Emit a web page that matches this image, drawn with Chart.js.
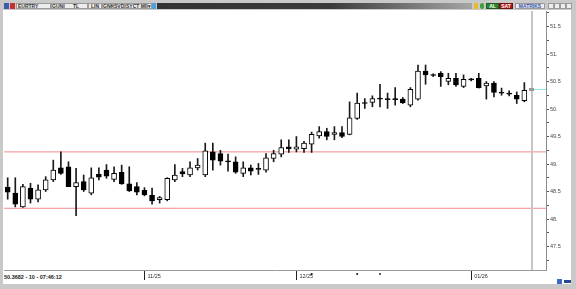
<!DOCTYPE html>
<html>
<head>
<meta charset="utf-8">
<script src="https://cdn.jsdelivr.net/npm/chart.js@4.4.1/dist/chart.umd.min.js"></script>
<style>
body{margin:0;background:#c9c9c9;}
#wrap{position:relative;width:576px;height:289px;overflow:hidden;background:#c9c9c9;font-family:"Liberation Sans",Arial,sans-serif;}
#plot{position:absolute;left:3px;top:10px;width:568px;height:274px;background:#fff;}
#dark{position:absolute;left:157px;top:3px;width:315px;height:6px;background:linear-gradient(to right,#333 0%,#3a3a3a 55%,#a5a5a5 100%);}
.b{position:absolute;top:3px;height:4px;border:1px solid #9a9a9a;background:#ededed;font-size:5px;line-height:4px;font-weight:bold;color:#333;text-align:center;white-space:nowrap;overflow:hidden;}
.ic{position:absolute;top:3px;width:5px;height:6px;}
#info{position:absolute;left:4px;top:274px;font-size:5.5px;font-weight:bold;color:#222;white-space:nowrap;}
canvas{position:absolute;left:0;top:0;}
</style>
</head>
<body>
<div id="wrap">
  <div id="plot"></div>
  <div class="ic" style="left:4px;background:#3a5db0;"></div>
  <div class="ic" style="left:10px;background:#c23030;"></div>
  <div class="b" style="left:16px;width:33px;text-align:left;padding-left:1px;width:32px;">EURTRY</div>
  <div class="b" style="left:51px;width:11px;">GUN</div>
  <div class="b" style="left:64px;width:22px;">TL</div>
  <div class="b" style="left:88px;width:12px;">LIN</div>
  <div class="b" style="left:102px;width:10px;">GNK</div>
  <div class="b" style="left:113px;width:10px;">SVD</div>
  <div class="b" style="left:125px;width:20px;">SYCT MP</div>
  <div class="b" style="left:147px;width:3px;">&#9662;</div>
  <div class="ic" style="left:152px;width:4px;background:#4aa0e0;"></div>
  <div id="dark"></div>
  <div class="ic" style="left:474px;width:4px;background:#e8b830;"></div>
  <div class="ic" style="left:480px;width:4px;background:#40a040;border-radius:3px;"></div>
  <div class="b" style="left:486px;width:11px;background:#2a8a2a;color:#fff;border-color:#1c5c1c;">AL</div>
  <div class="b" style="left:499px;width:12px;background:#a81c1c;color:#fff;border-color:#701010;">SAT</div>
  <div class="b" style="left:515px;width:28px;color:#3454a8;">MATRIKS</div>
  <div class="b" style="left:548px;width:4px;"></div>
  <div class="b" style="left:554px;width:4px;"></div>
  <div class="b" style="left:560px;width:4px;"></div>
  <div class="b" style="left:566px;width:4px;"></div>
  <div id="info">50.3682 - 10 - 07:46:12</div>
  <div class="ic" style="left:557px;top:279px;width:5px;height:5px;background:#3a6ac8;"></div>
  <div class="ic" style="left:564px;top:280px;width:7px;height:3px;background:#2a4a90;"></div>
  <canvas id="c" width="576" height="289"></canvas>
</div>
<script>
// candles, oldest first
const opens  = [48.58,48.47,48.22,48.56,48.36,48.53,48.71,48.93,48.95,48.59,48.68,48.47,48.81,48.89,48.72,48.85,48.64,48.59,48.52,48.43,
                48.35,48.35,48.71,48.86,48.80,48.93,48.80,49.22,49.19,49.05,49.04,48.83,48.93,48.92,48.89,49.10,49.18,49.31,49.27,49.28,
                49.36,49.51,49.59,49.54,49.57,49.54,49.83,50.11,50.12,50.19,50.18,50.18,50.18,50.07,50.18,50.69,50.62,50.65,50.50,50.56,
                50.41,50.54,50.56,50.42,50.47,50.30,50.29,50.25,50.15];
const highs  = [48.75,48.75,48.63,48.65,48.62,48.77,49.07,49.22,49.04,48.92,48.80,48.93,48.93,48.99,48.95,48.98,48.95,48.66,48.57,48.56,
                48.41,48.75,48.99,48.92,49.04,49.10,49.38,49.38,49.25,49.18,49.13,49.04,48.98,49.01,49.19,49.25,49.44,49.44,49.50,49.41,
                49.58,49.68,49.65,49.68,49.68,50.13,50.29,50.19,50.24,50.45,50.29,50.39,50.21,50.39,50.80,50.80,50.64,50.68,50.65,50.65,
                50.62,50.56,50.65,50.50,50.50,50.38,50.33,50.31,50.48];
const lows   = [48.36,48.22,48.21,48.29,48.31,48.50,48.68,48.81,48.59,48.06,48.50,48.44,48.71,48.74,48.68,48.63,48.50,48.44,48.42,48.27,
                48.29,48.33,48.68,48.77,48.77,48.89,48.77,48.89,48.98,48.87,48.83,48.77,48.80,48.81,48.85,49.04,49.13,49.21,49.22,49.21,
                49.21,49.47,49.44,49.44,49.48,49.53,49.81,50.01,50.04,50.04,50.01,50.07,50.10,50.04,50.16,50.45,50.59,50.41,50.44,50.41,
                50.39,50.51,50.38,50.18,50.22,50.25,50.24,50.10,50.13];
const closes = [48.49,48.27,48.59,48.36,48.53,48.71,48.89,48.83,48.59,48.66,48.53,48.75,48.76,48.78,48.83,48.64,48.51,48.49,48.44,48.33,
                48.39,48.74,48.80,48.82,48.93,48.98,49.24,49.07,49.05,49.04,48.85,48.93,48.87,48.90,49.11,49.19,49.30,49.28,49.31,49.38,
                49.54,49.59,49.50,49.57,49.50,49.84,50.11,50.10,50.19,50.18,50.17,50.17,50.11,50.36,50.69,50.62,50.61,50.59,50.56,50.44,
                50.54,50.53,50.39,50.47,50.30,50.29,50.27,50.18,50.34];

const dateTicks  = [18, 38, 61];
const dateLabels = ['11/25', '12/25', '01/26'];
const levels     = [49.22, 48.195];
const lastPrice  = 50.3682;
const markerIdx  = [40, 46, 49];

const xMin = -0.486, xMax = 70.85;
const yMin = 47.0727, yMax = 51.782;
const font = {family: '"Liberation Sans", Arial, sans-serif', size: 5.5};

const frame = {
  id: 'frame',
  afterDatasetsDraw(chart) {
    const ctx = chart.ctx, a = chart.chartArea;
    const y = chart.scales.y.getPixelForValue(lastPrice);
    ctx.save();
    ctx.fillStyle = '#c6c6c6';
    ctx.fillRect(531, a.top, 2, a.bottom - a.top);
    ctx.strokeStyle = '#8fe6ee';
    ctx.lineWidth = 1;
    ctx.beginPath();
    ctx.moveTo(533, Math.round(y) + 0.5);
    ctx.lineTo(a.right, Math.round(y) + 0.5);
    ctx.stroke();
    ctx.fillStyle = '#9a9a9a';
    ctx.fillRect(529, Math.round(y) - 1, 5, 3);
    ctx.restore();
  }
};

new Chart(document.getElementById('c'), {
  type: 'bar',
  data: {
    datasets: [
      {
        label: 'body',
        data: opens.map((o, i) => ({x: i, y: [o, closes[i]]})),
        backgroundColor: opens.map((o, i) => closes[i] >= o ? '#ffffff' : '#000000'),
        borderColor: '#000',
        borderWidth: 1,
        borderSkipped: false,
        barThickness: 5,
        minBarLength: 1,
        grouped: false,
        order: 0
      },
      {
        label: 'wick',
        data: lows.map((l, i) => ({x: i, y: [l, highs[i]]})),
        backgroundColor: '#1a1a1a',
        barThickness: 1,
        grouped: false,
        order: 1
      },
      ...levels.map(v => ({
        type: 'line',
        data: [{x: xMin, y: v}, {x: xMax, y: v}],
        borderColor: '#f28c8c',
        borderWidth: 1,
        pointRadius: 0,
        order: 2
      })),
      {
        type: 'line',
        showLine: false,
        data: markerIdx.map(i => ({x: i, y: 47.0})),
        pointStyle: 'rect',
        pointRadius: 1.2,
        backgroundColor: '#000',
        borderWidth: 0,
        clip: false,
        order: 0
      }
    ]
  },
  options: {
    responsive: false,
    animation: false,
    layout: {padding: {left: 3, top: 11, right: 5, bottom: 0}},
    plugins: {legend: {display: false}, tooltip: {enabled: false}},
    scales: {
      x: {
        type: 'linear',
        min: xMin,
        max: xMax,
        offset: false,
        afterBuildTicks: s => { s.ticks = dateTicks.map(v => ({value: v})); },
        afterFit: s => { s.height = 19; },
        grid: {drawOnChartArea: false, offset: false, tickLength: 10, color: '#222'},
        border: {color: '#9a9a9a'},
        ticks: {
          autoSkip: false,
          maxRotation: 0,
          align: 'start',
          labelOffset: 3,
          padding: -7,
          color: '#333',
          font: font,
          callback: (v, i) => dateLabels[i]
        }
      },
      y: {
        type: 'linear',
        position: 'right',
        min: yMin,
        max: yMax,
        afterFit: s => { s.width = 25; },
        grid: {drawOnChartArea: false, offset: false, tickLength: 3, color: '#555'},
        border: {color: '#8a8a8a'},
        ticks: {
          stepSize: 0.25,
          includeBounds: false,
          autoSkip: false,
          padding: 1,
          color: '#444',
          font: font,
          callback: v => {
            const r = Math.round(v * 100) / 100;
            if (Math.abs(r % 0.5) > 0.001) return '';
            return r % 1 === 0 ? r + '.' : String(r);
          }
        }
      }
    }
  },
  plugins: [frame]
});
</script>
</body>
</html>
